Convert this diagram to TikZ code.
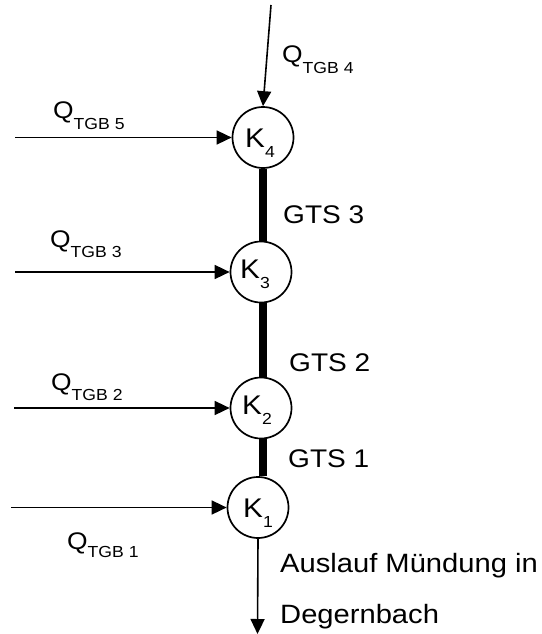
\documentclass[tikz,border=0pt]{standalone}
\usepackage{fontspec}
\setmainfont[FakeStretch=1.1]{Liberation Sans}
\usetikzlibrary{arrows.meta}
\newcommand\lowsub[2][10.5pt]{\raisebox{-#1}{\fontsize{16}{16}\selectfont #2}}
\begin{document}
\begin{tikzpicture}[x=1pt,y=-1pt,
  knode/.style={circle, draw, line width=1.7pt, minimum size=61pt, inner sep=0pt},
  ktext/.style={anchor=base west, inner sep=0pt, font=\fontsize{27}{30}\selectfont},
  qlbl/.style={anchor=base west, inner sep=0pt, font=\fontsize{24}{27}\selectfont},
  glbl/.style={anchor=base west, inner sep=0pt, font=\fontsize{25.5}{30}\selectfont},
  alb/.style={anchor=base west, inner sep=0pt, font=\fontsize{26.5}{30}\selectfont},
  arr/.style={line width=1.6pt, -{Triangle[length=15pt,width=14pt]}},
  pipe/.style={line width=8pt}]
\useasboundingbox (0,0) rectangle (541,634);
% nodes
\node[knode] (K4) at (263,137.5) {};
\node[knode] (K3) at (261,272) {};
\node[knode] (K2) at (261,408) {};
\node[knode] (K1) at (258,507.5) {};
\node[ktext] (t4) at (245,147) {K\lowsub{4}};
\node[ktext] (t3) at (240,278) {K\lowsub{3}};
\node[ktext] (t2) at (242,414) {K\lowsub{2}};
\node[ktext] (t1) at (243,517) {K\lowsub{1}};
% pipes
\draw[pipe] (K4.south) -- (K4.south |- K3.north);
\draw[pipe] (K4.south |- K3.south) -- (K4.south |- K2.north);
\draw[pipe] (K4.south |- K2.south) -- (K4.south |- K1.north);
% inputs
\coordinate (in4) at (271,5);
\coordinate (in5) at (15,137.5);
\coordinate (in3) at (15,272);
\coordinate (in2) at (14,408);
\coordinate (in1) at (11,507.5);
\coordinate (out) at (257.5,634);
\draw[arr] (in4) -- (K4.north);
\draw[arr] (in5) -- (K4.west);
\draw[arr] (in3) -- (K3.west);
\draw[arr] (in2) -- (K2.west);
\draw[arr] (in1) -- (K1.west);
\draw[arr] (K1.south) -- (out);
% labels
\node[qlbl] (q4) at (282,63) {Q\lowsub{TGB 4}};
\node[qlbl] (q5) at (53,118.5) {Q\lowsub{TGB 5}};
\node[qlbl] (q3) at (50,247) {Q\lowsub{TGB 3}};
\node[qlbl] (q2) at (51,390) {Q\lowsub{TGB 2}};
\node[qlbl] (q1) at (67,549) {Q\lowsub[8pt]{TGB 1}};
\node[glbl] (g3) at (283,223) {GTS 3};
\node[glbl] (g2) at (289,371) {GTS 2};
\node[glbl] (g1) at (288,467) {GTS 1};
\node[alb] (a1) at (280,572) {Auslauf Mündung in};
\node[alb] (a2) at (280,623) {Degernbach};
\end{tikzpicture}
\end{document}
